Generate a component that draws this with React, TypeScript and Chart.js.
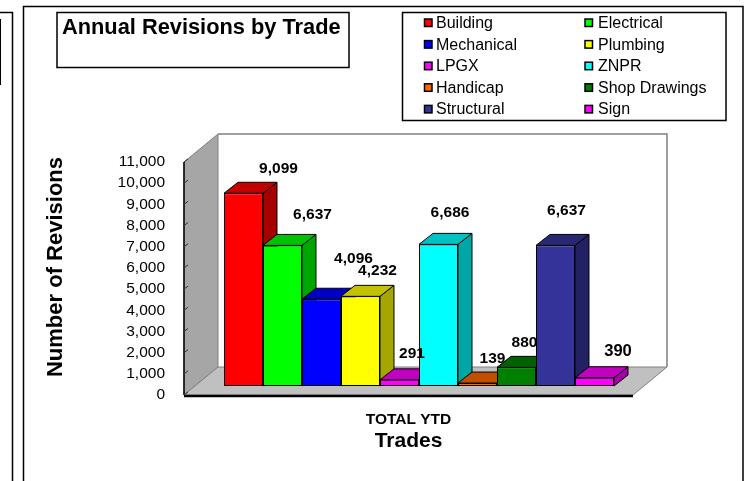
import React, { useEffect, useRef } from "react";
import { Chart, registerables } from "chart.js";

Chart.register(...registerables);

const categories = ["TOTAL YTD"];
const trades = ["Building", "Electrical", "Mechanical", "Plumbing", "LPGX", "ZNPR", "Handicap", "Shop Drawings", "Structural", "Sign"];
const revisions = [9099, 6637, 4096, 4232, 291, 6686, 139, 880, 6637, 390];
const colours = ["#FF0000", "#00FF00", "#0000FF", "#FFFF00", "#FF00FF", "#00FFFF", "#FF6600", "#008000", "#333399", "#FF00FF"];
const yTickStep = 1000;
const yMax = 11000;

const FONT = "'Liberation Sans', Arial, sans-serif";
const labelNudge: [number, number][] = [
  [35, -25], [30, -31], [32, -41], [17, -26], [12.5, -26],
  [11.5, -32], [15, -24], [8, -25], [11, -35], [23.5, -26],
];
const floorShift: [number, number] = [10.5, -9];
const barDepth: [number, number] = [14, -11];
const wallDepth: [number, number] = [34, -28];

function shade(hex: string, f: number) {
  const n = parseInt(hex.slice(1), 16);
  const r = Math.round(((n >> 16) & 255) * f);
  const g = Math.round(((n >> 8) & 255) * f);
  const b = Math.round((n & 255) * f);
  return `rgb(${r},${g},${b})`;
}

function poly(ctx: CanvasRenderingContext2D, pts: number[][], fill?: string, stroke?: string, lw = 1) {
  ctx.beginPath();
  pts.forEach((p, i) => (i ? ctx.lineTo(p[0], p[1]) : ctx.moveTo(p[0], p[1])));
  ctx.closePath();
  if (fill) { ctx.fillStyle = fill; ctx.fill(); }
  if (stroke) { ctx.strokeStyle = stroke; ctx.lineWidth = lw; ctx.stroke(); }
}

const scene = {
  id: "scene",
  beforeDraw(chart: any) {
    const { ctx } = chart;
    ctx.save();
    ctx.strokeStyle = "#000";
    ctx.lineWidth = 1.5;
    // page frames
    ctx.beginPath();
    ctx.moveTo(0, 12.5); ctx.lineTo(12.5, 12.5); ctx.lineTo(12.5, 481);
    ctx.moveTo(23.5, 481); ctx.lineTo(23.5, 6.5); ctx.lineTo(743, 6.5); ctx.lineTo(743, 481);
    ctx.stroke();
    ctx.lineWidth = 2;
    ctx.beginPath(); ctx.moveTo(0, 19); ctx.lineTo(0, 85); ctx.stroke();
    // title box
    ctx.lineWidth = 1.5;
    ctx.strokeRect(57, 12.5, 292, 55);
    ctx.fillStyle = "#000";
    ctx.font = `bold 21.8px ${FONT}`;
    ctx.textAlign = "left";
    ctx.textBaseline = "middle";
    ctx.fillText("Annual Revisions by Trade", 62, 28);
    // legend box
    ctx.strokeRect(402.5, 12.5, 323.5, 108);
    ctx.font = `16px ${FONT}`;
    const sets = chart.data.datasets;
    sets.forEach((d: any, i: number) => {
      const col = i % 2;
      const row = (i - col) / 2;
      const y = 23 + row * 21.6;
      const x = col ? 585 : 424.5;
      ctx.fillStyle = d.backgroundColor;
      ctx.fillRect(x, y - 4, 7.5, 7.5);
      ctx.lineWidth = 1.5;
      ctx.strokeRect(x, y - 4, 7.5, 7.5);
      ctx.fillStyle = "#000";
      ctx.fillText(d.label, col ? 598 : 436, y + 0.5);
    });
    // y axis title
    ctx.save();
    ctx.translate(56, 267);
    ctx.rotate(-Math.PI / 2);
    ctx.font = `bold 22px ${FONT}`;
    ctx.textAlign = "center";
    ctx.fillStyle = "#000";
    ctx.fillText("Number of Revisions", 0, 0);
    ctx.restore();
    ctx.restore();
  },
  beforeDatasetsDraw(chart: any) {
    const { ctx, chartArea: a, scales } = chart;
    const [dx, dy] = wallDepth;
    const T = a.top, B = a.bottom, L = a.left, R = a.right;
    ctx.save();
    // back wall
    poly(ctx, [[L + dx, T + dy], [R + dx, T + dy], [R + dx, B + dy], [L + dx, B + dy]], "#FFFFFF");
    ctx.strokeStyle = "#808080";
    ctx.lineWidth = 1.5;
    ctx.beginPath();
    ctx.moveTo(L + dx, T + dy); ctx.lineTo(R + dx, T + dy); ctx.lineTo(R + dx, B + dy);
    ctx.stroke();
    // side wall and floor
    poly(ctx, [[L, T], [L + dx, T + dy], [L + dx, B + dy], [L, B]], "#A6A6A6", "#808080", 1);
    poly(ctx, [[L, B], [L + dx, B + dy], [R + dx, B + dy], [R, B]], "#C0C0C0", "#808080", 1);
    // axis edges
    ctx.strokeStyle = "#000";
    ctx.lineWidth = 1.5;
    ctx.beginPath(); ctx.moveTo(L, T); ctx.lineTo(L, B); ctx.stroke();
    ctx.lineWidth = 2.5;
    ctx.beginPath(); ctx.moveTo(L, B + 1); ctx.lineTo(R, B + 1); ctx.stroke();
    // y tick marks on the wall
    ctx.strokeStyle = "#333";
    ctx.lineWidth = 1;
    scales.y.ticks.forEach((t: any) => {
      const y = scales.y.getPixelForValue(t.value);
      ctx.beginPath(); ctx.moveTo(L, y); ctx.lineTo(L + 4, y - 3); ctx.stroke();
    });
    ctx.restore();
  },
  beforeDatasetDraw() {
    return false;
  },
  afterDatasetsDraw(chart: any) {
    const { ctx } = chart;
    const [sx, sy] = floorShift;
    const [bx, by] = barDepth;
    ctx.save();
    ctx.translate(sx, sy);
    chart.data.datasets.forEach((d: any, i: number) => {
      const el = chart.getDatasetMeta(i).data[0];
      const l = el.x - el.width / 2;
      const r = el.x + el.width / 2;
      const t = el.y;
      const b = el.base;
      poly(ctx, [[r, t], [r + bx, t + by], [r + bx, b + by], [r, b]], shade(d.backgroundColor, 0.65), "#000", 1);
      poly(ctx, [[l, t], [l + bx, t + by], [r + bx, t + by], [r, t]], shade(d.backgroundColor, 0.76), "#000", 1);
      el.draw(ctx);
    });
    ctx.restore();
    // value labels
    ctx.save();
    ctx.fillStyle = "#000";
    ctx.textAlign = "center";
    ctx.textBaseline = "middle";
    chart.data.datasets.forEach((d: any, i: number) => {
      const el = chart.getDatasetMeta(i).data[0];
      ctx.font = `bold ${i === 9 ? 16.6 : 15.5}px ${FONT}`;
      ctx.fillText(
        Number(d.data[0]).toLocaleString("en-US"),
        el.x + sx + labelNudge[i][0],
        el.y + sy + labelNudge[i][1]
      );
    });
    ctx.restore();
  },
};

export default function App() {
  const ref = useRef<HTMLCanvasElement>(null);
  useEffect(() => {
    const chart = new Chart(ref.current as HTMLCanvasElement, {
      type: "bar",
      data: {
        labels: categories,
        datasets: trades.map((label, i) => ({
          label,
          data: [revisions[i]],
          backgroundColor: colours[i],
          borderColor: "#000000",
          borderWidth: 1,
          borderSkipped: false,
          barPercentage: 1,
          categoryPercentage: 0.8686,
        })),
      },
      options: {
        responsive: false,
        animation: false,
        devicePixelRatio: 1,
        layout: { padding: { top: 162, right: 114, left: 0, bottom: 0 } },
        plugins: { legend: { display: false }, tooltip: { enabled: false } },
        scales: {
          x: {
            grid: { display: false, drawTicks: false },
            border: { display: false },
            afterFit: (s: any) => { s.height = 86; },
            ticks: { color: "#000", padding: 15, font: { family: FONT, size: 15.5, weight: "bold" } },
            title: {
              display: true,
              text: "Trades",
              color: "#000",
              font: { family: FONT, size: 21, weight: "bold" },
              padding: { top: 0, bottom: 27 },
            },
          },
          y: {
            min: 0,
            max: yMax,
            grid: { display: false, drawTicks: false },
            border: { display: false },
            afterFit: (s: any) => { s.width = 184; },
            ticks: {
              stepSize: yTickStep,
              autoSkip: false,
              color: "#000",
              padding: 19,
              font: { family: FONT, size: 15.5 },
              callback: (v: any) => Number(v).toLocaleString("en-US"),
            },
          },
        },
      },
      plugins: [scene],
    } as any);
    return () => chart.destroy();
  }, []);
  return (
    <canvas
      ref={ref}
      width={747}
      height={481}
      style={{ position: "absolute", left: 0, top: 0, width: 747, height: 481, background: "#fff" }}
    />
  );
}
